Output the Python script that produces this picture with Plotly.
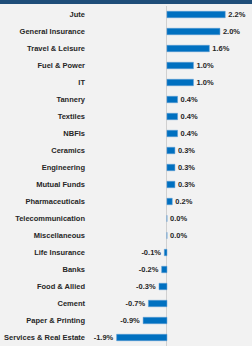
import plotly.graph_objects as go

sectors = ["Jute", "General Insurance", "Travel & Leisure", "Fuel & Power", "IT",
           "Tannery", "Textiles", "NBFIs", "Ceramics", "Engineering", "Mutual Funds",
           "Pharmaceuticals", "Telecommunication", "Miscellaneous", "Life Insurance",
           "Banks", "Food & Allied", "Cement", "Paper & Printing", "Services & Real Estate"]
returns = [2.2, 2.0, 1.6, 1.0, 1.0, 0.4, 0.4, 0.4, 0.3, 0.3, 0.3, 0.2, 0.0, 0.0,
           -0.1, -0.2, -0.3, -0.7, -0.9, -1.9]

fig = go.Figure(go.Bar(
    x=returns, y=sectors, orientation="h",
    marker=dict(color="#0070c0", line=dict(color="#5b9bd5", width=0.5)),
    texttemplate="%{x:.1f}%", textposition="outside", constraintext="none",
    textfont=dict(family="Liberation Sans Narrow, Liberation Sans", size=7.5, color="#262626",
                  weight="bold"),
    cliponaxis=False, hoverinfo="skip",
))

fig.update_layout(
    width=252, height=346,
    margin=dict(l=88, r=0, t=6, b=0),
    paper_bgcolor="#f2f2f2", plot_bgcolor="#f2f2f2",
    bargap=0.62, showlegend=False,
    xaxis=dict(range=[-2.98, 3.21], showgrid=False, showticklabels=False,
               zeroline=True, zerolinecolor="#d0d0d0", zerolinewidth=1, fixedrange=True),
    yaxis=dict(autorange="reversed", showgrid=False, ticks="", ticklabelstandoff=2,
               fixedrange=True,
               tickfont=dict(family="Liberation Sans Narrow, Liberation Sans", size=7.5, color="#262626",
                             weight="bold")),
    shapes=[dict(type="rect", xref="paper", yref="paper", x0=-1, x1=1.1,
                 y0=1 + 2 / 340, y1=1.05,
                 fillcolor="#1f4e79", line=dict(width=0), layer="above")],
)

fig.write_html("out.html", config={"displayModeBar": False},
               post_script="document.body.style.margin='0';")
